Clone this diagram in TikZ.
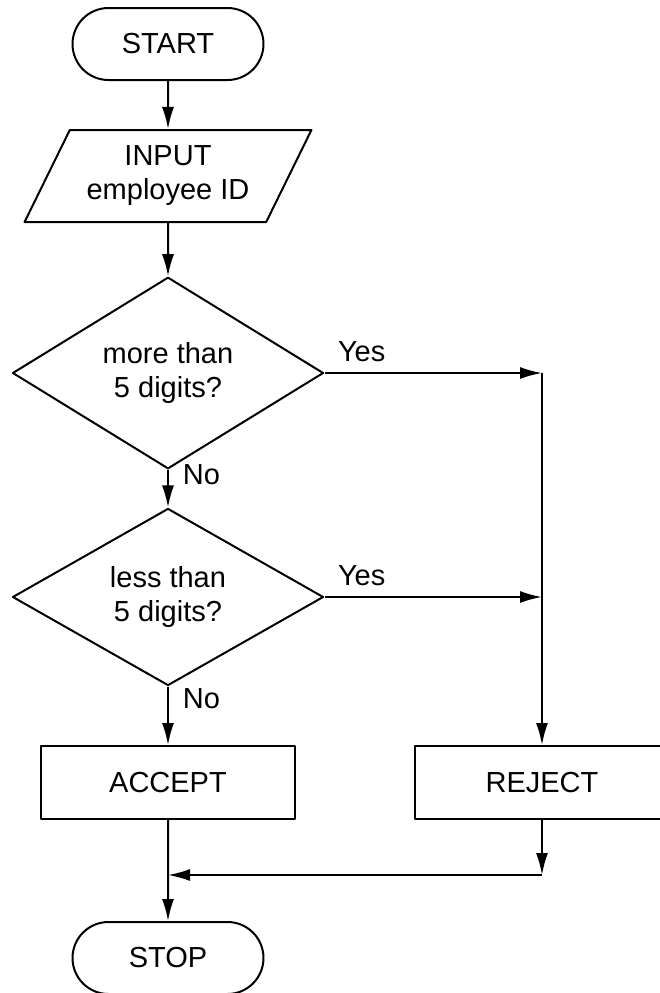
\documentclass[tikz,border=0pt]{standalone}
\usepackage{fontspec}
\setmainfont{Liberation Sans}
\usetikzlibrary{shapes.geometric,shapes.misc,arrows.meta}
\begin{document}
\begin{tikzpicture}[x=0.5pt,y=-0.5pt,line join=round,line width=1pt,>={Latex[length=11pt,width=6pt]},
	font=\fontsize{14.5}{17}\selectfont,
	term/.style={draw,rounded rectangle,minimum width=95.5pt,minimum height=36pt,inner sep=0pt},
	io/.style={draw,trapezium,trapezium left angle=58,trapezium right angle=122,trapezium stretches=true,
		minimum width=143.5pt,minimum height=46pt,align=center,inner sep=0pt},
	decide/.style={draw,diamond,minimum width=155.5pt,minimum height=75pt,align=center,inner sep=0pt},
	proc/.style={draw,rectangle,minimum width=127pt,minimum height=36.5pt,inner sep=0pt},
	lbl/.style={inner sep=0pt}]
	\useasboundingbox (0,0) rectangle (660,993);
	\node[term] (start) at (168,44) {START};
	\node[io] (input) at (168,176) {INPUT\\employee ID};
	\node[decide] (more) at (168,373) {more than\\5 digits?};
	\node[decide] (less) at (168,597) {less than\\5 digits?};
	\node[proc] (accept) at (168,782.5) {ACCEPT};
	\node[proc] (reject) at (542,782.5) {REJECT};
	\node[term] (stop) at (168,958) {STOP};
	\node[lbl,anchor=base west] (yesmore) at (337,361) {Yes};
	\node[lbl,anchor=base west] (yesless) at (337,585) {Yes};
	\node[lbl,anchor=base west] (nomore) at (182,484) {No};
	\node[lbl,anchor=base west] (noless) at (182,708) {No};
	\coordinate (moreR) at (more.east -| reject.north);
	\coordinate (lessR) at (less.east -| reject.north);
	\coordinate (joinR) at (542,875);
	\coordinate (joinL) at (168,875);
	\draw[->] (start) -- (input);
	\draw[->] (input) -- (more);
	\draw[->] (more) -- (less);
	\draw[->] (less) -- (accept);
	\draw[->] (more.east) -- (moreR);
	\draw[->] (moreR) -- (reject);
	\draw[->] (less.east) -- (lessR);
	\draw[->] (reject) -- (joinR);
	\draw[->] (joinR) -- (joinL);
	\draw[->] (accept) -- (stop);
\end{tikzpicture}
\end{document}
